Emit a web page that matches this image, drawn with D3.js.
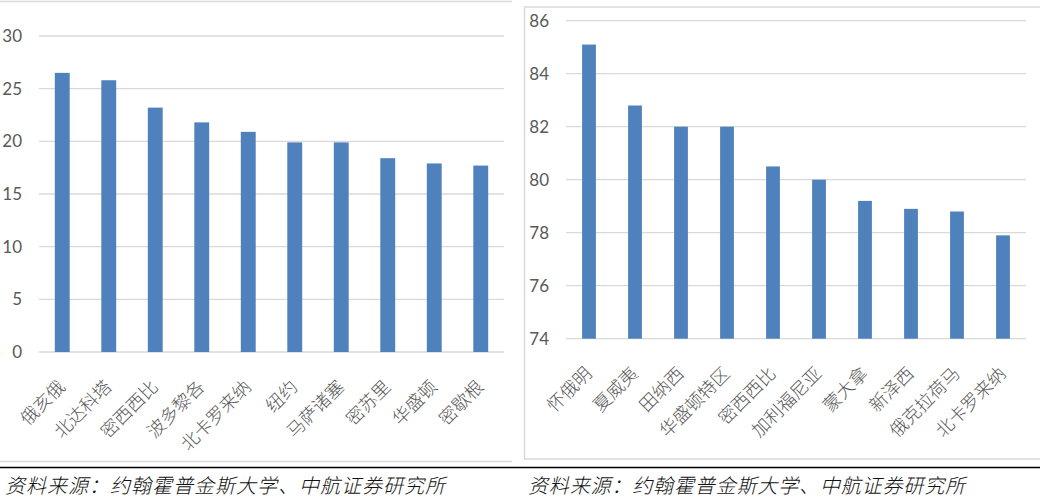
<!DOCTYPE html>
<html>
<head>
<meta charset="utf-8">
<script src="https://cdn.jsdelivr.net/npm/d3@7"></script>
<style>
  body { margin: 0; background: #fff; }
  svg { display: block; }
  .tick-num { font-family: Lato, "Open Sans", sans-serif; font-size: 17px; fill: #595959; }
  .cat { font-family: "Noto Sans CJK SC", sans-serif; font-size: 18px; font-weight: 300; fill: #595959; }
  .source { font-family: "Noto Sans CJK SC", sans-serif; font-size: 20px; font-style: italic; font-weight: 300; fill: #111; }
</style>
</head>
<body>
<svg width="1040" height="504"></svg>
<script>
// left panel, top 10
const leftStates = ['俄亥俄', '北达科塔', '密西西比', '波多黎各', '北卡罗来纳', '纽约', '马萨诸塞', '密苏里', '华盛顿', '密歇根'];
const leftValues = [26.5, 25.8, 23.2, 21.8, 20.9, 19.9, 19.9, 18.4, 17.9, 17.7];
const leftTicks = [0, 5, 10, 15, 20, 25, 30];

// right panel
const rightStates = ['怀俄明', '夏威夷', '田纳西', '华盛顿特区', '密西西比', '加利福尼亚', '蒙大拿', '新泽西', '俄克拉荷马', '北卡罗来纳'];
const rightValues = [85.1, 82.8, 82.0, 82.0, 80.5, 80.0, 79.2, 78.9, 78.8, 77.9];
const rightTicks = [74, 76, 78, 80, 82, 84, 86];

const SOURCE = '资料来源：约翰霍普金斯大学、中航证券研究所';
const BAR_COLOR = '#4f81bd';
const GRID_COLOR = '#d9d9d9';

const svg = d3.select('svg');

function drawChart(opt) {
  const x = d3.scaleBand()
    .domain(opt.cats)
    .range([opt.x0, opt.x1])
    .paddingInner(opt.pad)
    .paddingOuter(opt.pad / 2);
  const y = d3.scaleLinear()
    .domain([opt.ticks[0], opt.ticks[opt.ticks.length - 1]])
    .range([opt.yBottom, opt.yTop]);

  const g = svg.append('g');

  // gridlines
  g.selectAll('line.grid')
    .data(opt.ticks)
    .enter()
    .append('line')
    .attr('x1', opt.x0).attr('x2', opt.x1)
    .attr('y1', d => y(d)).attr('y2', d => y(d))
    .attr('stroke', GRID_COLOR)
    .attr('stroke-width', 1.3);

  g.selectAll('text.tick-num')
    .data(opt.ticks)
    .enter()
    .append('text')
    .attr('class', 'tick-num')
    .attr('x', opt.x0 - 17)
    .attr('y', d => y(d))
    .attr('dy', '0.36em')
    .attr('text-anchor', 'end')
    .text(d => d);

  g.selectAll('rect.bar')
    .data(opt.values)
    .enter()
    .append('rect')
    .attr('x', (d, i) => x(opt.cats[i]))
    .attr('width', x.bandwidth())
    .attr('y', d => y(d))
    .attr('height', d => y.range()[0] - y(d))
    .attr('fill', BAR_COLOR);

  g.selectAll('text.cat')
    .data(opt.cats)
    .enter()
    .append('text')
    .attr('class', 'cat')
    .attr('text-anchor', 'end')
    .attr('transform', d => {
      const cx = x(d) + x.bandwidth() / 2 + 4;
      return `translate(${cx} ${opt.yBottom + 36}) rotate(-45)`;
    })
    .text(d => d);
}

// left panel frame
svg.append('line').attr('x1', 0).attr('x2', 512).attr('y1', 1.5).attr('y2', 1.5)
  .attr('stroke', GRID_COLOR).attr('stroke-width', 1.5);
svg.append('line').attr('x1', 0).attr('x2', 512).attr('y1', 461.5).attr('y2', 461.5)
  .attr('stroke', GRID_COLOR).attr('stroke-width', 1.5);

// right panel frame
svg.append('rect')
  .attr('x', 524.5).attr('y', 7).attr('width', 530).attr('height', 452)
  .attr('fill', 'none').attr('stroke', GRID_COLOR).attr('stroke-width', 1.5);

drawChart({ cats: leftStates, values: leftValues, ticks: leftTicks,
  x0: 39, x1: 504, yTop: 36, yBottom: 352, pad: 0.68 });
drawChart({ cats: rightStates, values: rightValues, ticks: rightTicks,
  x0: 566, x1: 1026, yTop: 20.7, yBottom: 338.7, pad: 0.7 });

// separator + source notes
svg.append('line').attr('x1', 0).attr('x2', 1040).attr('y1', 467.5).attr('y2', 467.5)
  .attr('stroke', '#000').attr('stroke-width', 1.5);

svg.selectAll('text.source')
  .data([{ x: 5, w: 440 }, { x: 528, w: 437 }])
  .enter()
  .append('text')
  .attr('class', 'source')
  .attr('x', d => d.x)
  .attr('y', 493)
  .attr('textLength', d => d.w)
  .attr('lengthAdjust', 'spacing')
  .text(SOURCE);
</script>
</body>
</html>
